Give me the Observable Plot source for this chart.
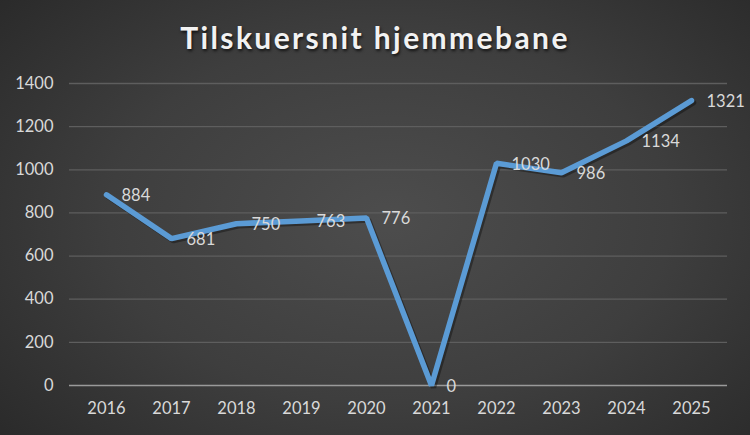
<!DOCTYPE html>
<html>
<head>
<meta charset="utf-8">
<script src="https://cdn.jsdelivr.net/npm/d3@7"></script>
<script src="https://cdn.jsdelivr.net/npm/@observablehq/plot@0.6"></script>
<style>
  html, body { margin: 0; padding: 0; }
  #chart {
    width: 750px; height: 435px; overflow: hidden;
    background: radial-gradient(ellipse 75% 85% at 52% 50%, #4d4d4d 0%, #3e3e3e 50%, #262626 100%);
    font-family: Lato, "Open Sans", sans-serif;
  }
  #title {
    height: 70px; line-height: 74px; text-align: center;
    color: #f2f2f2; font-size: 30px; font-weight: bold; letter-spacing: 2.4px;
    text-shadow: 1px 2px 3px rgba(0,0,0,0.7);
  }
</style>
</head>
<body>
<div id="chart"><div id="title">Tilskuersnit hjemmebane</div></div>
<script>
const years = ["2016","2017","2018","2019","2020","2021","2022","2023","2024","2025"];
const values = [884, 681, 750, 763, 776, 0, 1030, 986, 1134, 1321];
const yTicks = [0, 200, 400, 600, 800, 1000, 1200, 1400];

const data = years.map((y, i) => ({year: y, value: values[i]}));

const plot = Plot.plot({
  width: 750,
  height: 365,
  marginTop: 13,
  marginBottom: 50,
  marginLeft: 69,
  marginRight: 23,
  style: {background: "transparent", fontFamily: "Lato, 'Open Sans', sans-serif", fontSize: "16.5px", color: "#d9d9d9"},
  x: {type: "point", domain: years, padding: 0.5, label: null, tickSize: 0, tickPadding: 17},
  y: {domain: [0, 1400], ticks: yTicks, tickFormat: d => String(d), label: null, tickSize: 0, tickPadding: 16},
  marks: [
    Plot.ruleY(yTicks.filter(d => d > 0), {stroke: "#5e5e5e", strokeWidth: 1.3}),
    Plot.ruleY([0], {stroke: "#9a9a9a", strokeWidth: 1.6}),
    Plot.lineY(data, {x: "year", y: "value", stroke: "#000", strokeOpacity: 0.35, strokeWidth: 5.5, dx: 2, dy: 2, strokeLinecap: "round", strokeLinejoin: "miter"}),
    Plot.lineY(data, {x: "year", y: "value", stroke: "#5b9bd5", strokeWidth: 5.5, strokeLinecap: "round", strokeLinejoin: "miter"}),
    Plot.text(data, {x: "year", y: "value", text: d => String(d.value), textAnchor: "start", dx: 15, dy: 1, fill: "#d9d9d9", fontSize: 16.5})
  ]
});
document.getElementById("chart").appendChild(plot);
</script>
</body>
</html>
